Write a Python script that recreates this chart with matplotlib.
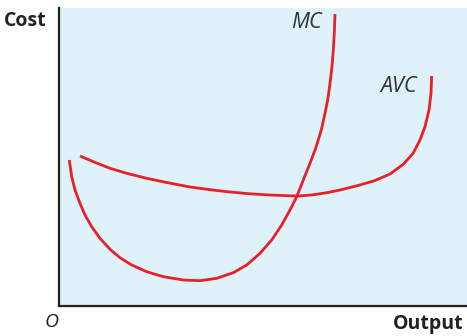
import matplotlib
matplotlib.use("Agg")
import matplotlib.pyplot as plt

# Marginal cost curve (output, cost)
mc_output = [10.8, 13.2, 16.5, 21.5, 26.5, 33.2, 41.5, 51.5, 61.5, 73.2, 88.2,
             104.8, 124.8, 141.5, 158.2, 174.8, 188.2, 201.5, 213.2, 223.2,
             231.5, 238.2, 244.8, 251.5, 256.5, 259.8, 263.2, 266.5, 269.2,
             271.5, 273.5, 274.8, 275.8, 276.5]
mc_cost = [145.5, 128.8, 115.5, 102.2, 90.5, 78.8, 67.2, 56.2, 47.8, 40.5, 33.8,
           28.8, 25.5, 24.8, 27.2, 32.8, 40.5, 52.2, 65.5, 80.5,
           95.5, 108.8, 125.5, 142.2, 155.5, 165.5, 177.2, 192.2, 205.5,
           222.2, 238.8, 255.5, 272.2, 291.5]

# Average variable cost curve (output, cost)
avc_output = [21.5, 34.8, 51.5, 68.2, 88.2, 108.2, 131.5, 151.5, 171.5, 191.5,
              211.5, 231.5, 241.5, 254.5, 269.5, 281.5, 301.5, 316.5, 331.5,
              344.5, 354.5, 361.5, 366.5, 370.5, 372.5, 373.2]
avc_cost = [149.5, 143.8, 137.2, 132.2, 127.2, 123.0, 118.5, 115.8, 113.5, 111.7,
            110.5, 109.7, 109.5, 110.7, 113.0, 115.5, 120.5, 125.0, 131.5,
            141.0, 152.0, 165.5, 178.8, 195.5, 212.2, 229.5]

W, H = 467, 336
fig = plt.figure(figsize=(W / 100, H / 100), dpi=100)
ax = fig.add_axes([58.5 / W, (H - 305.5) / H, (W - 58.5) / W, (305.5 - 8) / H])
ax.set_facecolor('#dff1f9')

red = '#e8202a'
for xs, ys in [(mc_output, mc_cost), (avc_output, avc_cost)]:
    ax.plot(xs, ys, color=red, lw=2.0, solid_capstyle='butt',
            solid_joinstyle='round', antialiased=True)

ax.set_xlim(0, 408.5)
ax.set_ylim(0, 297.5)
ax.set_xticks([])
ax.set_yticks([])
for s in ['top', 'right']:
    ax.spines[s].set_visible(False)
for s in ['left', 'bottom']:
    ax.spines[s].set_linewidth(1.6)
    ax.spines[s].set_color('#222222')

font = 'Open Sans'
def fx(x):
    return x / W
def fy(y):
    return 1 - y / H

fig.text(fx(4), fy(21), 'Cost', fontsize=14, fontweight='bold', family=font,
         ha='left', va='center', color='#222222')
fig.text(fx(463), fy(324), 'Output', fontsize=14, fontweight='bold', family=font,
         ha='right', va='center', color='#222222')
fig.text(fx(52), fy(322), 'O', fontsize=14, style='italic', family=font,
         ha='center', va='center', color='#222222')
fig.text(fx(306), fy(23), 'MC', fontsize=15.5, style='italic', family=font,
         ha='center', va='center', color='#333333')
fig.text(fx(398), fy(87), 'AVC', fontsize=15.5, style='italic', family=font,
         ha='center', va='center', color='#333333')

fig.savefig('out.png', dpi=100)
